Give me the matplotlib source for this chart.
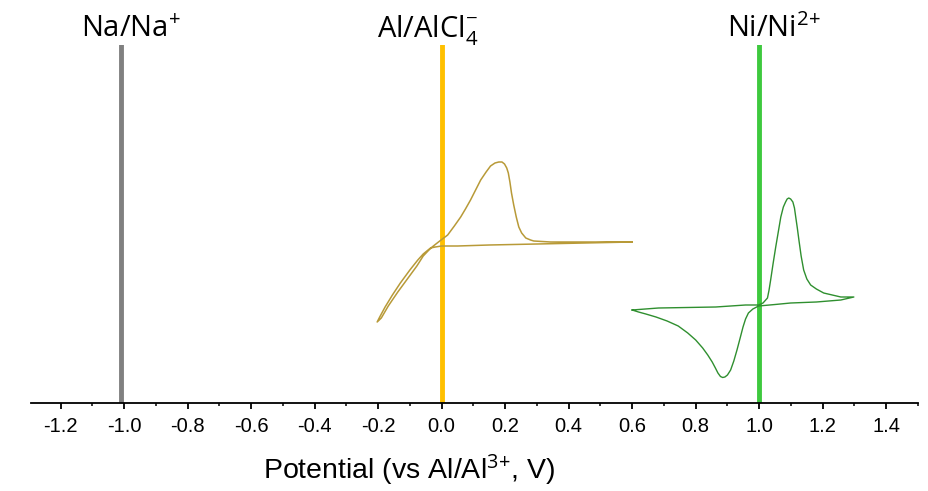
import numpy as np
import matplotlib.pyplot as plt
import matplotlib.transforms as mtransforms
from matplotlib.ticker import MultipleLocator

plt.rcParams['mathtext.fontset'] = 'custom'
plt.rcParams['mathtext.rm'] = 'Open Sans'
plt.rcParams['mathtext.it'] = 'Open Sans'

# reference electrode potentials (V vs Al/Al3+)
ref_pos = [-1.01, 0.0, 1.0]
ref_labels = ["Na/Na$^{\\mathrm{+}}$", "Al/AlCl$_{\\mathrm{4}}^{\\mathrm{-}}$", "Ni/Ni$^{\\mathrm{2{+}}}$"]
ref_label_x = [-0.98, -0.044, 1.046]
ref_colors = ["#808080", "#ffc000", "#3ec93e"]

# Al CV (current in arbitrary units)
al_v = [0.60, 0.45, 0.30, 0.15, 0.05, 0.0, -0.02, -0.035,
        -0.058, -0.075, -0.10, -0.13, -0.155, -0.178, -0.195, -0.203,
        -0.19, -0.168, -0.138, -0.108, -0.078, -0.058, -0.04, -0.03,
        -0.01, 0.019, 0.04, 0.06, 0.075, 0.091, 0.107, 0.123, 0.14, 0.154,
        0.168, 0.18, 0.19, 0.198, 0.205, 0.21, 0.215, 0.22, 0.227, 0.235,
        0.243, 0.252, 0.265, 0.28, 0.29, 0.343, 0.45, 0.60]
al_i = [161, 160, 159, 158, 157, 157, 156, 155,
        149, 143, 133, 120, 108, 96, 86, 81,
        85, 97, 111, 124, 137, 147, 153, 156,
        161, 168, 177, 186, 194, 203, 213, 223, 231, 237,
        240, 241, 241, 239, 235, 230, 221, 210, 198, 186,
        176, 170, 165, 163, 162, 161, 161, 161]

# Ni CV
ni_v = [0.60, 0.683, 0.863, 0.957, 0.998,
        1.012, 1.026, 1.031, 1.036, 1.044, 1.052, 1.06, 1.068, 1.076, 1.083,
        1.088, 1.093, 1.099, 1.106, 1.111, 1.115, 1.12, 1.125, 1.132, 1.14,
        1.15, 1.162, 1.18, 1.203, 1.23, 1.257, 1.298,
        1.257, 1.18, 1.099, 1.05, 0.998,
        0.98, 0.966, 0.957, 0.949, 0.94, 0.93, 0.92, 0.91, 0.9, 0.892, 0.885,
        0.878, 0.87, 0.862, 0.852, 0.838, 0.822, 0.8, 0.775, 0.745, 0.71,
        0.675, 0.643, 0.62, 0.60]
ni_i = [93, 95, 96, 98, 98,
        100, 105, 113, 123, 140, 156, 171, 186, 196, 201,
        204, 205, 204, 201, 195, 186, 175, 163, 147, 133,
        124, 118, 114, 110, 108, 106, 106,
        103, 101, 100, 98.5, 97,
        94, 90, 84, 76, 65, 53, 42, 33, 28, 26, 25.5,
        26.5, 30, 35, 41, 48, 55, 63, 70, 77, 82,
        86, 89, 91, 93]

fig = plt.figure(figsize=(9.29, 4.91), dpi=100)
ax = fig.add_axes([31 / 929, 88 / 491, 887 / 929, 358 / 491])

trans = mtransforms.blended_transform_factory(ax.transData, fig.transFigure)
for x, lx, lab, c in zip(ref_pos, ref_label_x, ref_labels, ref_colors):
    ax.axvline(x, color=c, lw=3.5, zorder=1)
    ax.text(lx, 1 - 37 / 491, lab, transform=trans, ha='center', va='baseline',
            fontsize=21, family=['Open Sans', 'DejaVu Sans'])

ax.plot(al_v, al_i, color='#b89a38', lw=1.1, zorder=2)
ax.plot(ni_v, ni_i, color='#2f8f2f', lw=1.0, zorder=2)

ax.set_xlim(-1.293, 1.50)
ax.set_ylim(0, 358)
for s in ['left', 'right', 'top']:
    ax.spines[s].set_visible(False)
ax.spines['bottom'].set_linewidth(1.3)
ax.set_yticks([])
ticks = np.round(np.arange(-1.2, 1.41, 0.2), 1)
ax.set_xticks(ticks)
ax.set_xticklabels([f"{v:.1f}" if v != 0 else "0.0" for v in ticks],
                   family=['Liberation Sans', 'DejaVu Sans'], fontsize=14.5)
ax.xaxis.set_minor_locator(MultipleLocator(0.1))
ax.tick_params(axis='x', which='major', length=4, width=1.3, direction='out', pad=6)
ax.tick_params(axis='x', which='minor', length=2.5, width=1.1, direction='out')
ax.set_xlabel(r"Potential (vs Al/Al$^{\mathrm{3{+}}}$, V)",
              family=['Liberation Sans', 'DejaVu Sans'], fontsize=20.5, labelpad=12)
ax.xaxis.label.set_x(0.426)

fig.savefig("out.png", dpi=100)
